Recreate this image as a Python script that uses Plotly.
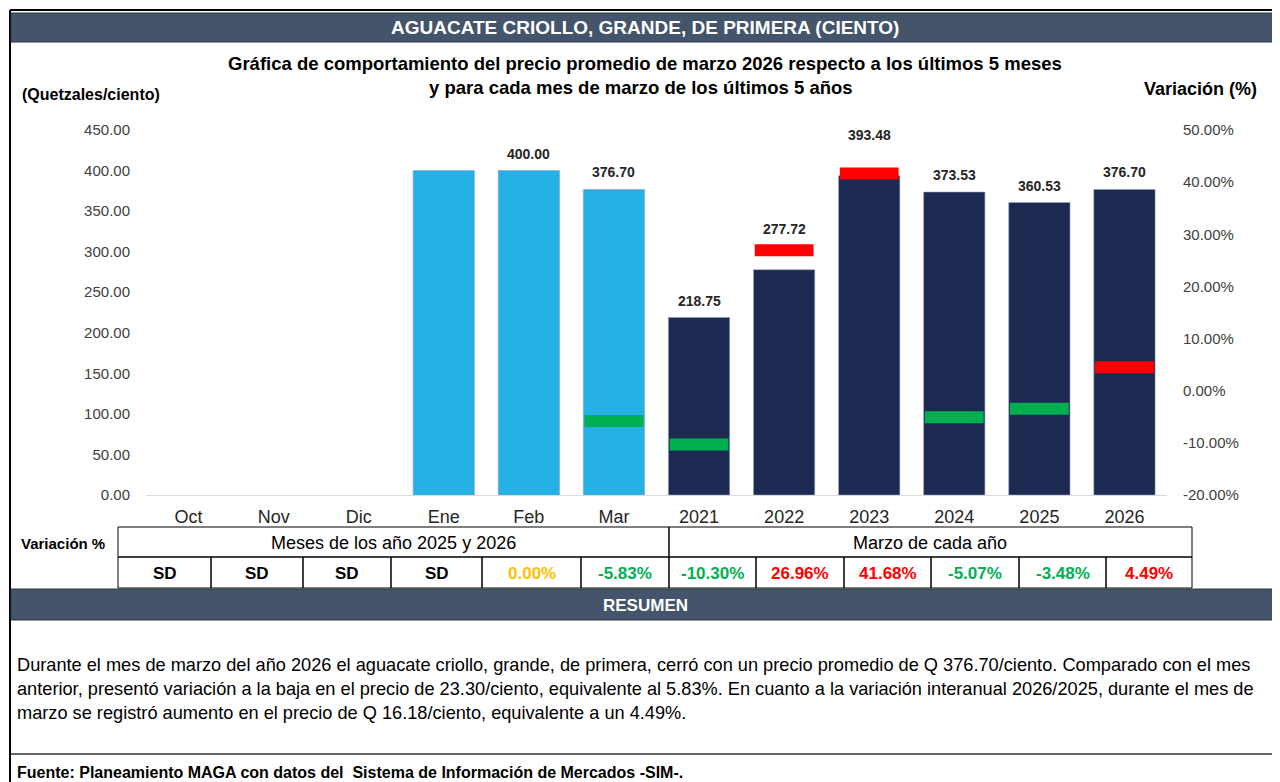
import plotly.graph_objects as go

W, H = 1280, 782
OFF = 8  # page body margin: layout coordinates below are page pixels

# ---------------- data ----------------
categories = ["Oct", "Nov", "Dic", "Ene", "Feb", "Mar",
              "2021", "2022", "2023", "2024", "2025", "2026"]
prices = [None, None, None, 400.00, 400.00, 376.70,
          218.75, 277.72, 393.48, 373.53, 360.53, 376.70]
price_labels = ["", "", "", "", "400.00", "376.70",
                "218.75", "277.72", "393.48", "373.53", "360.53", "376.70"]
variation = [None, None, None, None, 0.00, -5.83,
             -10.30, 26.96, 41.68, -5.07, -3.48, 4.49]
groups = ["mes"] * 6 + ["anio"] * 6
left_ticks = [0, 50, 100, 150, 200, 250, 300, 350, 400, 450]
right_ticks = [-20, -10, 0, 10, 20, 30, 40, 50]
left_range = [0, 450]
right_range = [-20, 50]

title_text = "AGUACATE CRIOLLO, GRANDE, DE PRIMERA (CIENTO)"
subtitle_1 = "Gráfica de comportamiento del precio promedio de marzo 2026 respecto a los últimos 5 meses"
subtitle_2 = "y para cada mes de marzo de los últimos 5 años"
left_title = "(Quetzales/ciento)"
right_title = "Variación (%)"
table_row_label = "Variación %"
table_group_1 = "Meses de los año 2025 y 2026"
table_group_2 = "Marzo de cada año"
resumen_title = "RESUMEN"
resumen_lines = [
    "Durante el mes de marzo del año 2026 el aguacate criollo, grande, de primera, cerró con un precio promedio de Q 376.70/ciento. Comparado con el mes",
    "anterior, presentó variación a la baja en el precio de 23.30/ciento, equivalente al 5.83%. En cuanto a la variación interanual 2026/2025, durante el mes de",
    "marzo se registró aumento en el precio de Q 16.18/ciento, equivalente a un 4.49%.",
]
fuente = "Fuente: Planeamiento MAGA con datos del  Sistema de Información de Mercados -SIM-."

# ---------------- styles ----------------
FONT = "Liberation Sans, Arial, sans-serif"
C_MES = "#25B1E5"
C_ANIO = "#1C2951"
C_UP = "#FF0000"
C_DOWN = "#00B050"
C_ZERO = "#FFC000"
C_HEAD = "#44546A"


def px(x):
    return (x - OFF) / W


def py(y):
    return 1 - (y - OFF) / H


def var_color(v):
    if v is None:
        return "#000000"
    if v > 0:
        return C_UP
    if v < 0:
        return C_DOWN
    return C_ZERO


xpos = list(range(len(categories)))

fig = go.Figure()

# bars
fig.add_trace(go.Bar(
    x=xpos, y=prices,
    marker=dict(color=[C_MES if g == "mes" else C_ANIO for g in groups],
                line=dict(color="#8EA0BE", width=0.6)),
    width=0.72, yaxis="y", xaxis="x", hoverinfo="skip", showlegend=False,
))

# variation markers (right axis)
mx, my, mc = [], [], []
for xi, v in zip(xpos, variation):
    if v is not None and v != 0:
        mx.append(xi)
        my.append(v)
        mc.append(var_color(v))
fig.add_trace(go.Scatter(
    x=mx, y=my, mode="markers", yaxis="y2", xaxis="x",
    marker=dict(symbol="line-ew", size=42, color=mc,
                line=dict(color=mc, width=12)),
    hoverinfo="skip", showlegend=False,
))

annotations = []


def note(x, y, text, size, color="black", bold=False, xanchor="center", yanchor="middle"):
    annotations.append(dict(
        x=px(x), y=py(y), xref="paper", yref="paper",
        text=f"<b>{text}</b>" if bold else text, showarrow=False,
        xanchor=xanchor, yanchor=yanchor,
        font=dict(family=FONT, size=size, color=color)))


# data labels
for xi, p, lab, v in zip(xpos, prices, price_labels, variation):
    if not lab:
        continue
    bar_frac = (p - left_range[0]) / (left_range[1] - left_range[0])
    if v is not None and v != 0:
        mark_frac = (v - right_range[0]) / (right_range[1] - right_range[0])
    else:
        mark_frac = -1
    shift = 41 if mark_frac > bar_frac else 17
    annotations.append(dict(
        x=xi, y=p, xref="x", yref="y", text=f"<b>{lab}</b>", showarrow=False,
        yshift=shift, xanchor="center", yanchor="middle",
        font=dict(family=FONT, size=14, color="#262626")))

# header texts
note(645, 28, title_text, 19, "white", bold=True)
note(645, 63, subtitle_1, 18.5, bold=True)
note(641, 87, subtitle_2, 18.5, bold=True)
note(91, 94, left_title, 16, bold=True)
note(1200, 89, right_title, 18, bold=True)

# table
shapes = []
cell_edges = [118, 211, 303, 391, 482, 581, 669, 756, 844, 931, 1019, 1106, 1192]
r1_top, r1_bot, r2_bot = 527, 557, 588
line_k = dict(color="black", width=1)


def rect(x0, x1, y0, y1, **kw):
    shapes.append(dict(type="rect", xref="paper", yref="paper",
                       x0=px(x0), x1=px(x1), y0=py(y1), y1=py(y0), **kw))


def hline(x0, x1, y, line):
    shapes.append(dict(type="line", xref="paper", yref="paper",
                       x0=px(x0), x1=px(x1), y0=py(y), y1=py(y), line=line))


def vline(x, y0, y1, line):
    shapes.append(dict(type="line", xref="paper", yref="paper",
                       x0=px(x), x1=px(x), y0=py(y0), y1=py(y1), line=line))


rect(118, 669, r1_top, r1_bot, line=line_k)
rect(669, 1192, r1_top, r1_bot, line=line_k)
for i in range(len(cell_edges) - 1):
    rect(cell_edges[i], cell_edges[i + 1], r1_bot, r2_bot, line=line_k)
    v = variation[i]
    txt = "SD" if v is None else f"{v:.2f}%"
    note((cell_edges[i] + cell_edges[i + 1]) / 2, (r1_bot + r2_bot) / 2 + 1,
         txt, 17, var_color(v), bold=True)
note(393, 543, table_group_1, 18)
note(930, 543, table_group_2, 18)
note(63, 543, table_row_label, 15, bold=True)

# frame and header bars
frame = dict(color="black", width=2)
vline(10, 10, 790, frame)
vline(1278, 10, 790, frame)
hline(10, 1278, 10, frame)
rect(11, 1278, 13, 42, fillcolor=C_HEAD, line=dict(color="#2F3640", width=1))
rect(11, 1278, 589, 620, fillcolor=C_HEAD, line=dict(color="#2F3640", width=1))
hline(11, 1278, 754, dict(color="#666666", width=2))

note(645, 605, resumen_title, 17, "white", bold=True)
for k, line in enumerate(resumen_lines):
    note(15, 665 + 24 * k, line, 18.2, xanchor="left")
note(15, 772, fuente, 16, bold=True, xanchor="left")

fig.update_layout(
    width=W, height=H,
    autosize=False,
    margin=dict(l=0, r=0, t=0, b=0, pad=0, autoexpand=False),
    paper_bgcolor="white", plot_bgcolor="white",
    xaxis=dict(domain=[px(146), px(1167)], range=[-0.5, len(categories) - 0.5],
               tickvals=xpos, ticktext=categories, automargin=False,
               showline=True, linecolor="#D9D9D9", linewidth=1,
               showgrid=False, zeroline=False, ticks="", ticklabelstandoff=5,
               tickfont=dict(family=FONT, size=18, color="#262626")),
    yaxis=dict(domain=[py(495), py(130)], range=left_range, automargin=False,
               tickvals=left_ticks, ticktext=[f"{t:.2f}" for t in left_ticks],
               showgrid=False, zeroline=False, showline=False,
               ticks="", ticklabelstandoff=15,
               tickfont=dict(family=FONT, size=15, color="#404040")),
    yaxis2=dict(domain=[py(495), py(130)], range=right_range, overlaying="y",
                side="right", automargin=False, anchor="x",
                tickvals=right_ticks, ticktext=[f"{t:.2f}%" for t in right_ticks],
                showgrid=False, zeroline=False, showline=False,
                ticks="", ticklabelstandoff=15,
                tickfont=dict(family=FONT, size=15, color="#404040")),
    shapes=shapes,
    annotations=annotations,
)

fig.write_html("out.html")
